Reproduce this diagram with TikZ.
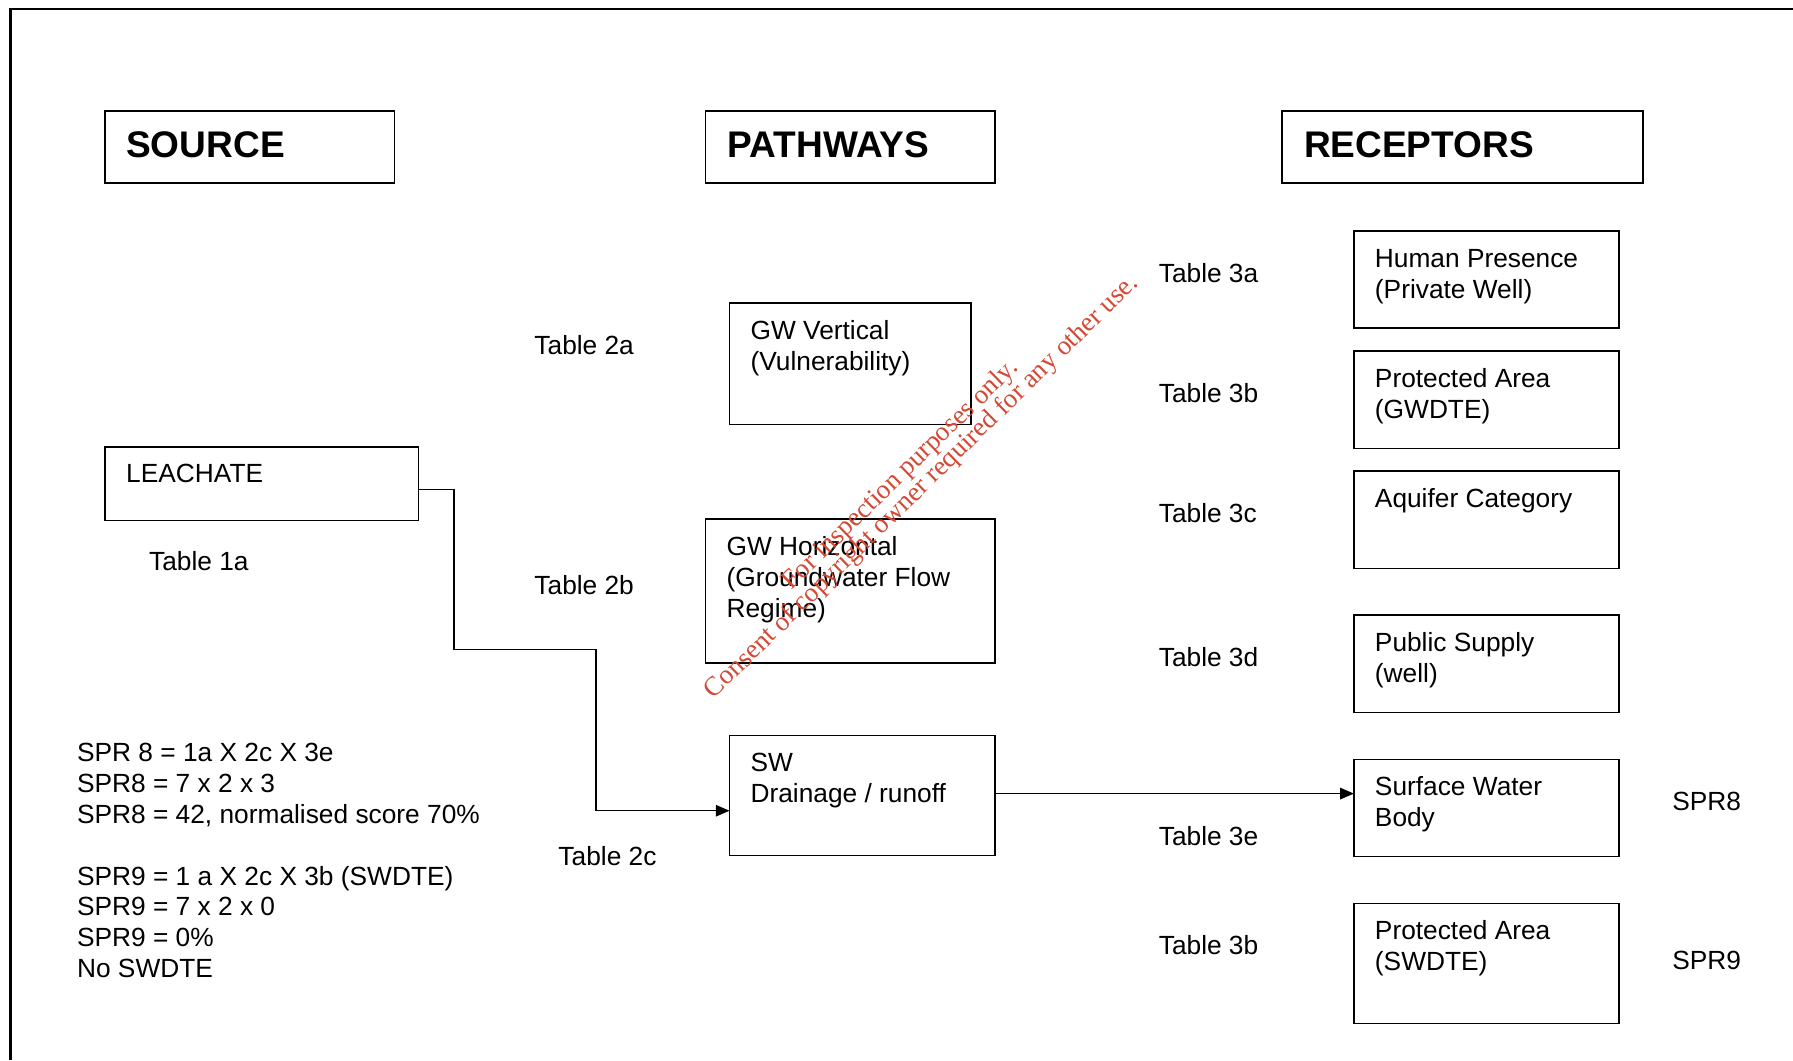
\documentclass[tikz,border=0pt]{standalone}
\usepackage{fontspec}
\setmainfont{Liberation Sans}
\newfontfamily\wmfont{Liberation Serif}
\usetikzlibrary{arrows.meta}
\definecolor{wmred}{RGB}{212,72,52}
\begin{document}
\begin{tikzpicture}[x=0.5pt,y=-0.5pt,
  box/.style={draw,line width=0.65pt,inner sep=0pt,outer sep=0pt,anchor=north west},
  txt/.style={anchor=base west,inner sep=0pt,align=left,font=\fontsize{11.5}{13.5}\selectfont},
  head/.style={anchor=base west,inner sep=0pt,font=\fontsize{16.2}{19}\selectfont\bfseries},
  wm/.style={anchor=base west,inner sep=0pt,text=wmred,font=\wmfont\fontsize{11.8}{14}\selectfont,rotate=44.3},
  arr/.style={line width=0.65pt,-{Triangle[length=6pt,width=5pt]}}]
\useasboundingbox (0,0) rectangle (1568,927);
% frame
\draw[line width=1.1pt] (9,927) -- (9,8) -- (1568,8);
% headers
\node[box,minimum width=126.5pt,minimum height=31.5pt] (src) at (92,97) {};
\node[head] (srct) at (110,138) {SOURCE};
\node[box,minimum width=126.5pt,minimum height=31.5pt] (path) at (617,97) {};
\node[head] (patht) at (636,138) {PATHWAYS};
\node[box,minimum width=158pt,minimum height=31.5pt] (rec) at (1121,97) {};
\node[head] (rect) at (1140,138) {RECEPTORS};
% source
\node[box,minimum width=137pt,minimum height=32pt] (leach) at (92,391) {};
\node[txt] (leacht) at (110,422) {LEACHATE};
\node[txt] (t1a) at (130,499) {Table 1a};
% pathways (multi-line nodes: base = last line)
\node[box,minimum width=105.5pt,minimum height=53pt] (gwv) at (638,265) {};
\node[txt] (gwvt) at (656,324) {GW Vertical\\(Vulnerability)};
\node[box,minimum width=126.5pt,minimum height=63pt] (gwh) at (617,454) {};
\node[txt] (gwht) at (635,540) {GW Horizontal\\(Groundwater Flow\\Regime)};
\node[box,minimum width=116pt,minimum height=52.5pt] (sw) at (638,643) {};
\node[txt] (swt) at (656,702) {SW\\Drainage / runoff};
\node[txt] (t2a) at (467,310) {Table 2a};
\node[txt] (t2b) at (467,520) {Table 2b};
\node[txt] (t2c) at (488,757) {Table 2c};
% receptors
\node[box,minimum width=116pt,minimum height=42.5pt] (r1) at (1184,202) {};
\node[txt] (r1t) at (1202,261) {Human Presence\\(Private Well)};
\node[box,minimum width=116pt,minimum height=42.5pt] (r2) at (1184,307) {};
\node[txt] (r2t) at (1202,366) {Protected Area\\(GWDTE)};
\node[box,minimum width=116pt,minimum height=42.5pt] (r3) at (1184,412) {};
\node[txt] (r3t) at (1202,444) {Aquifer Category};
\node[box,minimum width=116pt,minimum height=42.5pt] (r4) at (1184,538) {};
\node[txt] (r4t) at (1202,597) {Public Supply\\(well)};
\node[box,minimum width=116pt,minimum height=42.5pt] (r5) at (1184,664) {};
\node[txt] (r5t) at (1202,723) {Surface Water\\Body};
\node[box,minimum width=116pt,minimum height=52.5pt] (r6) at (1184,790) {};
\node[txt] (r6t) at (1202,849) {Protected Area\\(SWDTE)};
\node[txt] (t3a) at (1013,247) {Table 3a};
\node[txt] (t3b) at (1013,352) {Table 3b};
\node[txt] (t3c) at (1013,457) {Table 3c};
\node[txt] (t3d) at (1013,583) {Table 3d};
\node[txt] (t3e) at (1013,739) {Table 3e};
\node[txt] (t3b2) at (1013,835) {Table 3b};
\node[txt] (spr8) at (1462,709) {SPR8};
\node[txt] (spr9) at (1462,848) {SPR9};
% calculation block
\node[txt] (calc) at (67,855) {SPR 8 = 1a X 2c X 3e\\SPR8 = 7 x 2 x 3\\SPR8 = 42, normalised score 70\%\\[13.5pt]SPR9 = 1 a X 2c X 3b (SWDTE)\\SPR9 = 7 x 2 x 0\\SPR9 = 0\%\\No SWDTE};
% connectors
\draw[arr] (leach.east |- 0,428) -- (397,428) -- (397,568) -- (521,568) -- (521,709) -- (sw.west |- 0,709);
\draw[arr] (sw.east |- 0,694) -- (r5.west |- 0,694);
% watermark
\node[wm] (wm1) at (692,517) {For inspection purposes only.};
\node[wm] (wm2) at (624,612) {Consent of copyright owner required for any other use.};
\end{tikzpicture}
\end{document}
